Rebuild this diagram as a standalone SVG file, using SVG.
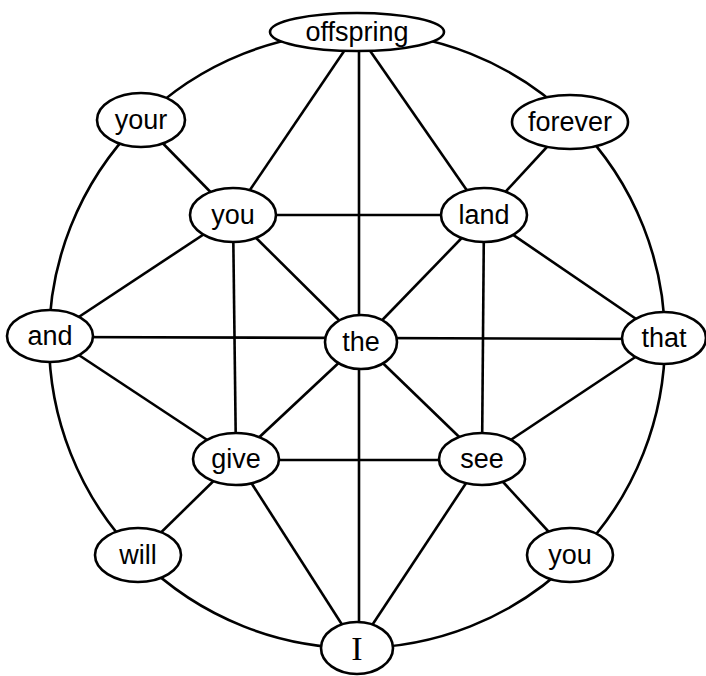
<svg xmlns="http://www.w3.org/2000/svg" width="706" height="676" viewBox="0 0 706 676">
<style>
.e{fill:none;stroke:#000;stroke-width:2.6}
.n ellipse{fill:#fff;stroke:#000;stroke-width:2.6}
.n text{font-family:"Liberation Sans",Arial,sans-serif;font-size:27px;fill:#000;text-anchor:middle}
.n text.s{font-family:"Liberation Serif","Times New Roman",serif;font-size:34px}
</style>
<rect width="706" height="676" fill="#fff"/>
<g id="edges" class="e">
<circle cx="357" cy="340" r="308"/>
<line x1="357" y1="32" x2="233" y2="215"/>
<line x1="357" y1="32" x2="484" y2="215"/>
<line x1="359" y1="32" x2="359" y2="648"/>
<line x1="141" y1="121" x2="233" y2="215"/>
<line x1="570" y1="122" x2="484" y2="215"/>
<line x1="233" y1="215" x2="484" y2="215"/>
<line x1="233" y1="215" x2="361" y2="342"/>
<line x1="484" y1="215" x2="361" y2="342"/>
<line x1="233" y1="215" x2="50" y2="336"/>
<line x1="233" y1="215" x2="236" y2="459"/>
<line x1="484" y1="215" x2="664" y2="338"/>
<line x1="484" y1="215" x2="482" y2="459"/>
<line x1="50" y1="337" x2="664" y2="339"/>
<line x1="50" y1="336" x2="236" y2="459"/>
<line x1="664" y1="338" x2="482" y2="459"/>
<line x1="361" y1="342" x2="236" y2="459"/>
<line x1="361" y1="342" x2="482" y2="459"/>
<line x1="236" y1="460" x2="482" y2="460"/>
<line x1="236" y1="459" x2="138" y2="555"/>
<line x1="482" y1="459" x2="570" y2="555"/>
<line x1="236" y1="459" x2="357" y2="648"/>
<line x1="482" y1="459" x2="357" y2="648"/>
</g>
<g id="n-offspring" class="n"><ellipse cx="357" cy="32" rx="87" ry="19"/><text x="357" y="41">offspring</text></g>
<g id="n-your" class="n"><ellipse cx="141" cy="120" rx="44" ry="27"/><text x="141" y="129">your</text></g>
<g id="n-forever" class="n"><ellipse cx="570" cy="122" rx="58" ry="27"/><text x="570" y="131">forever</text></g>
<g id="n-you1" class="n"><ellipse cx="233" cy="215" rx="43" ry="27"/><text x="233" y="224">you</text></g>
<g id="n-land" class="n"><ellipse cx="484" cy="215" rx="43" ry="27"/><text x="484" y="224">land</text></g>
<g id="n-and" class="n"><ellipse cx="50" cy="336" rx="43" ry="26"/><text x="50" y="345">and</text></g>
<g id="n-the" class="n"><ellipse cx="361" cy="342" rx="36" ry="27"/><text x="361" y="351">the</text></g>
<g id="n-that" class="n"><ellipse cx="664" cy="338" rx="42" ry="26"/><text x="664" y="347">that</text></g>
<g id="n-give" class="n"><ellipse cx="236" cy="459" rx="43" ry="26"/><text x="236" y="468">give</text></g>
<g id="n-see" class="n"><ellipse cx="482" cy="459" rx="43" ry="26"/><text x="482" y="468">see</text></g>
<g id="n-will" class="n"><ellipse cx="138" cy="555" rx="43" ry="27"/><text x="138" y="564">will</text></g>
<g id="n-you2" class="n"><ellipse cx="570" cy="555" rx="43" ry="27"/><text x="570" y="564">you</text></g>
<g id="n-I" class="n"><ellipse cx="357" cy="648" rx="36" ry="26"/><text class="s" x="357" y="660">I</text></g>
</svg>
